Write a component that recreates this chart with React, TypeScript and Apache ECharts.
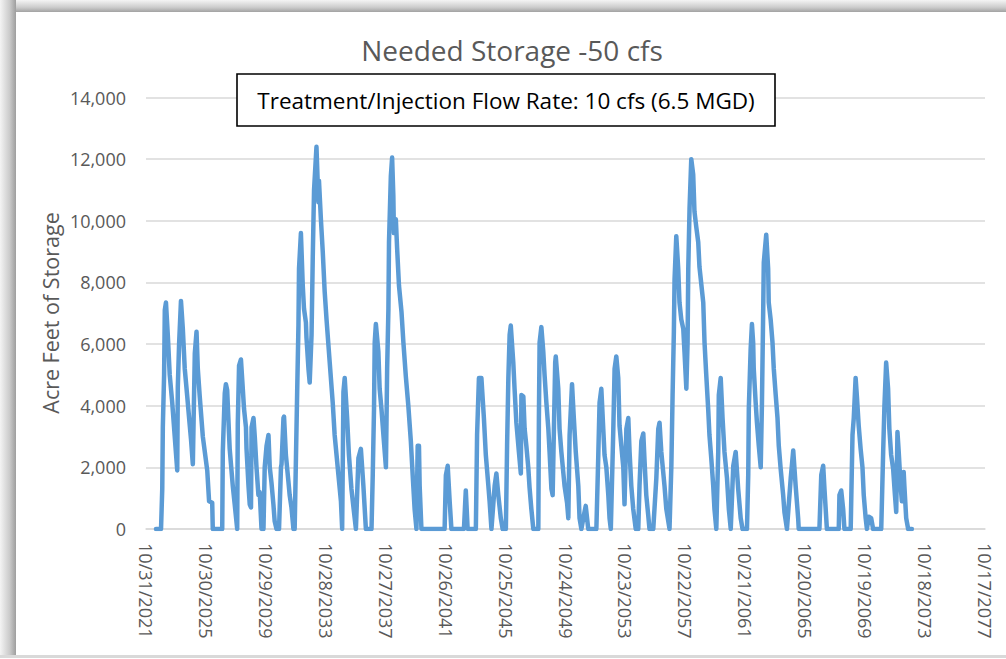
import React, { useEffect, useRef } from "react";
import * as echarts from "echarts";

// ---- axis definitions ----
const axisStart = "2021-10-31";
const tickStepDays = 1460;
const tickSteps = 14;
const yMin = 0;
const yMax = 14000;
const yStep = 2000;

const titleText = "Needed Storage -50 cfs";
const noteText = "Treatment/Injection Flow Rate: 10 cfs (6.5 MGD)";
const yTitle = "Acre Feet of Storage";

// ---- series: needed storage (acre-feet) ----
const dates = [
  "2022-07-01", "2022-11-01", "2022-12-01", "2022-12-15", "2023-01-15", "2023-02-01", "2023-03-01", "2023-04-15",
  "2023-06-01", "2023-08-01", "2023-10-01", "2023-12-01", "2023-12-15", "2024-01-15", "2024-03-01", "2024-04-15",
  "2024-06-01", "2024-08-01", "2024-09-15", "2024-11-01", "2024-12-15", "2025-02-01", "2025-03-15", "2025-04-15",
  "2025-06-01", "2025-08-15", "2025-12-01", "2026-01-15", "2026-04-01", "2026-04-15", "2026-12-01", "2026-12-15",
  "2027-02-01", "2027-03-01", "2027-04-01", "2027-05-15", "2027-06-01", "2027-08-15", "2027-10-01", "2027-12-01",
  "2027-12-15", "2028-01-15", "2028-03-01", "2028-04-15", "2028-05-15", "2028-07-01", "2028-07-15", "2028-09-01",
  "2028-10-01", "2028-11-01", "2028-11-15", "2029-01-01", "2029-02-01", "2029-03-15", "2029-05-01", "2029-06-01",
  "2029-07-15", "2029-09-01", "2029-10-01", "2029-11-15", "2030-01-01", "2030-02-01", "2030-03-15", "2030-05-01",
  "2030-06-01", "2030-07-15", "2030-09-15", "2030-11-01", "2030-11-15", "2031-01-01", "2031-01-15", "2031-03-01",
  "2031-05-01", "2031-06-01", "2031-07-15", "2031-09-01", "2031-10-01", "2031-11-01", "2031-12-01", "2032-01-01",
  "2032-01-15", "2032-03-01", "2032-04-15", "2032-05-15", "2032-07-01", "2032-07-15", "2032-09-01", "2032-10-01",
  "2032-11-15", "2032-12-15", "2033-01-15", "2033-03-15", "2033-05-01", "2033-05-15", "2033-07-01", "2033-08-15",
  "2033-10-01", "2033-11-15", "2034-02-01", "2034-04-15", "2034-06-01", "2034-09-01", "2034-11-01", "2034-12-01",
  "2035-01-01", "2035-02-01", "2035-04-01", "2035-05-15", "2035-07-15", "2035-09-15", "2035-11-01", "2036-01-01",
  "2036-03-01", "2036-05-01", "2036-07-01", "2036-11-15", "2036-12-15", "2037-01-15", "2037-02-01", "2037-03-01",
  "2037-05-01", "2037-06-01", "2037-07-15", "2037-09-01", "2037-11-01", "2037-12-01", "2038-01-01", "2038-01-15",
  "2038-03-01", "2038-04-01", "2038-05-01", "2038-05-15", "2038-07-01", "2038-08-01", "2038-09-15", "2038-11-15",
  "2039-01-01", "2039-03-01", "2039-05-01", "2039-07-01", "2039-08-15", "2039-10-01", "2039-11-15", "2039-12-15",
  "2040-01-15", "2040-02-01", "2040-03-15", "2041-10-01", "2041-11-01", "2041-12-15", "2042-02-01", "2042-03-15",
  "2043-01-15", "2043-03-01", "2043-04-15", "2043-11-01", "2043-12-01", "2044-01-15", "2044-03-15", "2044-05-15",
  "2044-07-01", "2044-09-01", "2044-10-01", "2044-11-15", "2045-02-01", "2045-03-15", "2045-05-01", "2045-07-01",
  "2045-08-15", "2045-11-01", "2045-12-01", "2046-01-01", "2046-02-01", "2046-03-01", "2046-05-01", "2046-06-01",
  "2046-07-15", "2046-09-15", "2046-11-01", "2046-11-15", "2047-01-01", "2047-02-01", "2047-03-15", "2047-05-01",
  "2047-06-01", "2047-07-15", "2047-09-01", "2048-01-01", "2048-01-15", "2048-02-01", "2048-03-15", "2048-05-01",
  "2048-06-01", "2048-07-15", "2048-09-01", "2048-10-01", "2048-11-15", "2048-12-15", "2049-01-15", "2049-02-15",
  "2049-03-01", "2049-05-01", "2049-06-01", "2049-07-15", "2049-10-01", "2049-12-01", "2050-01-01", "2050-02-01",
  "2050-04-01", "2050-05-15", "2050-07-01", "2050-09-01", "2050-10-01", "2050-11-15", "2051-01-15", "2051-03-01",
  "2051-05-01", "2051-11-15", "2052-01-01", "2052-02-01", "2052-03-15", "2052-05-01", "2052-06-01", "2052-07-15",
  "2052-09-01", "2052-10-01", "2052-11-01", "2053-01-01", "2053-02-01", "2053-03-15", "2053-05-01", "2053-06-01",
  "2053-07-15", "2053-09-01", "2053-10-01", "2053-11-15", "2054-01-01", "2054-02-01", "2054-03-15", "2054-05-01",
  "2054-07-01", "2054-09-01", "2054-10-01", "2054-11-15", "2055-01-01", "2055-02-01", "2055-03-15", "2055-05-01",
  "2055-06-01", "2055-09-01", "2055-11-15", "2056-01-01", "2056-02-01", "2056-03-15", "2056-06-01", "2056-07-15",
  "2056-10-01", "2056-11-15", "2056-12-15", "2057-01-15", "2057-02-01", "2057-03-15", "2057-05-01", "2057-06-01",
  "2057-07-15", "2057-09-01", "2057-10-01", "2057-11-15", "2057-12-15", "2058-01-01", "2058-02-01", "2058-03-15",
  "2058-05-01", "2058-06-01", "2058-07-15", "2058-09-01", "2058-10-01", "2059-01-01", "2059-02-01", "2059-03-15",
  "2059-05-01", "2059-06-01", "2059-07-15", "2059-09-01", "2059-10-01", "2059-11-15", "2060-01-01", "2060-01-15",
  "2060-03-01", "2060-04-15", "2060-06-01", "2060-08-01", "2060-09-15", "2060-11-01", "2061-01-01", "2061-03-01",
  "2061-05-01", "2061-07-01", "2061-08-15", "2061-12-01", "2062-01-01", "2062-01-15", "2062-03-01", "2062-04-01",
  "2062-05-01", "2062-05-15", "2062-07-01", "2062-08-01", "2062-09-15", "2062-11-01", "2062-12-01", "2063-01-01",
  "2063-01-15", "2063-03-15", "2063-05-01", "2063-05-15", "2063-07-01", "2063-08-15", "2063-09-15", "2063-11-01",
  "2063-12-15", "2064-01-15", "2064-03-01", "2064-05-01", "2064-06-01", "2064-08-01", "2064-11-01", "2065-01-01",
  "2065-03-01", "2065-05-01", "2065-05-15", "2066-10-01", "2066-11-15", "2067-01-01", "2067-02-01", "2067-04-01",
  "2068-01-15", "2068-02-01", "2068-03-15", "2068-05-01", "2068-06-01", "2068-11-01", "2068-12-15", "2069-01-15",
  "2069-03-01", "2069-04-01", "2069-05-15", "2069-07-01", "2069-08-15", "2069-09-15", "2069-11-01", "2069-12-01",
  "2070-01-15", "2070-03-15", "2070-05-01", "2070-11-15", "2071-01-01", "2071-02-01", "2071-03-15", "2071-05-01",
  "2071-06-01", "2071-07-15", "2071-09-01", "2071-10-15", "2071-11-15", "2071-12-15", "2072-01-15", "2072-03-01",
  "2072-04-01", "2072-05-15", "2072-06-01", "2072-07-15", "2072-09-01", "2072-12-01",
];

const storage = [
  0, 0, 1300, 3300, 5000, 7100, 7350, 6300,
  5000, 4100, 3000, 1900, 4600, 6000, 7400, 6500,
  5200, 4300, 3600, 2900, 2100, 5700, 6400, 5200,
  4300, 3000, 1900, 900, 850, 0, 0, 2500,
  4400, 4700, 4500, 3100, 2600, 1400, 800, 0,
  3400, 5300, 5500, 4550, 3900, 3300, 2600, 1400,
  800, 700, 3300, 3600, 3000, 2000, 1100, 1200,
  0, 0, 2000, 2700, 3050, 2000, 1500, 800,
  250, 0, 0, 2000, 2100, 3600, 3650, 2400,
  1550, 1100, 700, 0, 0, 2300, 4450, 6600,
  8450, 9600, 7900, 7150, 6700, 6200, 5200, 4750,
  6300, 8850, 11000, 12400, 10600, 11300, 10050, 9000,
  7700, 6800, 5400, 4100, 3050, 1750, 900, 0,
  4450, 4900, 3600, 2400, 1300, 550, 0, 2300,
  2600, 1400, 0, 0, 1750, 3900, 6050, 6650,
  5750, 4550, 3900, 3050, 2000, 5200, 7150, 9300,
  11450, 12050, 10800, 9600, 10050, 9100, 7900, 7050,
  6050, 4950, 4000, 2850, 1750, 650, 0, 2700,
  2700, 1400, 0, 0, 1750, 2050, 900, 0,
  0, 1250, 0, 0, 3050, 4900, 4900, 3600,
  2400, 1400, 900, 0, 1400, 1800, 1100, 350,
  0, 0, 2700, 4900, 6300, 6600, 5400, 4550,
  3450, 2500, 1800, 4350, 4300, 3250, 2700, 2000,
  1350, 650, 0, 0, 3600, 6050, 6550, 5750,
  5000, 4100, 3250, 2500, 1300, 1100, 3250, 5400,
  5600, 4550, 3250, 2500, 1400, 850, 350, 3050,
  4700, 3600, 2500, 1400, 350, 0, 450, 750,
  0, 0, 2400, 4100, 4550, 3250, 2400, 2000,
  1100, 350, 0, 3250, 5200, 5600, 4900, 3350,
  2700, 2000, 800, 3250, 3600, 2500, 1400, 650,
  0, 0, 1400, 2850, 3100, 2200, 1100, 450,
  0, 0, 1650, 3250, 3450, 2500, 1400, 650,
  0, 2050, 4350, 6400, 8100, 9500, 8450, 7350,
  6800, 6500, 5750, 4550, 6050, 8450, 10400, 12000,
  11500, 10300, 9800, 9300, 8500, 7350, 6050, 5000,
  3900, 3050, 2300, 1400, 650, 0, 2500, 4350,
  4900, 3600, 2500, 1650, 650, 0, 2050, 2500,
  1300, 350, 0, 0, 1750, 3900, 5850, 6650,
  6050, 5200, 4100, 3450, 2700, 2000, 4100, 7150,
  8650, 9550, 8450, 7350, 6800, 6050, 5200, 4350,
  3600, 2700, 1950, 1100, 550, 0, 1650, 2550,
  1400, 350, 0, 0, 1750, 2050, 1300, 0,
  0, 1100, 1250, 650, 0, 0, 3050, 3600,
  4900, 4300, 3350, 2600, 2000, 1100, 350, 0,
  400, 350, 0, 0, 2500, 4000, 5400, 4550,
  3250, 2400, 1950, 1100, 550, 3150, 2500, 1400,
  900, 1850, 1400, 350, 0, 0,
];

const DAY = 86400000;
const parseUTC = (s: string) => {
  const [y, m, d] = s.split("-").map(Number);
  return Date.UTC(y, m - 1, d);
};
const origin = parseUTC(axisStart);
const toDays = (s: string) => (parseUTC(s) - origin) / DAY;
const fmtDate = (days: number) => {
  const t = new Date(origin + Math.round(days) * DAY);
  return `${t.getUTCMonth() + 1}/${t.getUTCDate()}/${t.getUTCFullYear()}`;
};

const FONT = "'Open Sans', 'Noto Sans', sans-serif";
const GRAY = "#595959";

export default function App() {
  const ref = useRef<HTMLDivElement>(null);

  useEffect(() => {
    if (!ref.current) return;
    const chart = echarts.init(ref.current, undefined, { renderer: "svg" });
    const n = Math.min(dates.length, storage.length);
    const seriesData: [number, number][] = [];
    for (let i = 0; i < n; i++) seriesData.push([toDays(dates[i]), storage[i]]);

    chart.setOption({
      animation: false,
      backgroundColor: "#ffffff",
      grid: { left: 146, right: 21, top: 97.5, bottom: 130, containLabel: false },
      xAxis: {
        type: "value",
        min: 0,
        max: tickStepDays * tickSteps,
        interval: tickStepDays,
        axisLine: { show: true, lineStyle: { color: "#d9d9d9", width: 1.5 } },
        axisTick: { show: false },
        splitLine: { show: false },
        axisLabel: {
          rotate: -90,
          margin: 14,
          color: GRAY,
          fontSize: 18,
          fontFamily: FONT,
          formatter: (v: number) => fmtDate(v),
        },
      },
      yAxis: {
        type: "value",
        min: yMin,
        max: yMax,
        interval: yStep,
        axisLine: { show: false },
        axisTick: { show: false },
        splitLine: { show: true, lineStyle: { color: "#d9d9d9", width: 1.5 } },
        axisLabel: {
          margin: 20,
          color: GRAY,
          fontSize: 18,
          fontFamily: FONT,
          formatter: (v: number) => v.toLocaleString("en-US"),
        },
      },
      series: [
        {
          type: "line",
          data: seriesData,
          showSymbol: false,
          symbol: "none",
          lineStyle: { color: "#5b9bd5", width: 4.5, cap: "round", join: "round" },
          z: 3,
        },
      ],
      graphic: [
        {
          type: "rect",
          z: -10,
          silent: true,
          shape: { x: 0, y: 0, width: 1006, height: 12 },
          style: {
            fill: new echarts.graphic.LinearGradient(0, 0, 0, 1, [
              { offset: 0, color: "#f4f4f4" },
              { offset: 0.6, color: "#cdcdcd" },
              { offset: 1, color: "#a2a2a2" },
            ]),
          },
        },
        {
          type: "rect",
          z: -9,
          silent: true,
          shape: { x: 0, y: 0, width: 16, height: 658 },
          style: {
            fill: new echarts.graphic.LinearGradient(0, 0, 1, 0, [
              { offset: 0, color: "#f4f4f4" },
              { offset: 0.6, color: "#cbcbcb" },
              { offset: 1, color: "#9e9e9e" },
            ]),
          },
        },
        {
          type: "rect",
          z: -8,
          silent: true,
          shape: { x: 0, y: 655, width: 1006, height: 3 },
          style: { fill: "#d9d9d9" },
        },
        {
          type: "text",
          z: 10,
          style: {
            x: 512,
            y: 50,
            text: titleText,
            fill: GRAY,
            font: `28px ${FONT}`,
            textAlign: "center",
            textVerticalAlign: "middle",
          },
        },
        {
          type: "rect",
          z: 10,
          shape: { x: 237, y: 74, width: 538, height: 52 },
          style: { fill: "#ffffff", stroke: "#000000", lineWidth: 1.6 },
        },
        {
          type: "text",
          z: 11,
          style: {
            x: 506,
            y: 100,
            text: noteText,
            fill: "#000000",
            font: `22.5px ${FONT}`,
            textAlign: "center",
            textVerticalAlign: "middle",
          },
        },
        {
          type: "text",
          z: 10,
          x: 50,
          y: 313,
          rotation: Math.PI / 2,
          style: {
            x: 0,
            y: 0,
            text: yTitle,
            fill: GRAY,
            font: `21.5px ${FONT}`,
            textAlign: "center",
            textVerticalAlign: "middle",
          },
        },
      ],
    });

    return () => chart.dispose();
  }, []);

  return (
    <div
      ref={ref}
      style={{ position: "absolute", left: 0, top: 0, width: 1006, height: 659 }}
    />
  );
}
